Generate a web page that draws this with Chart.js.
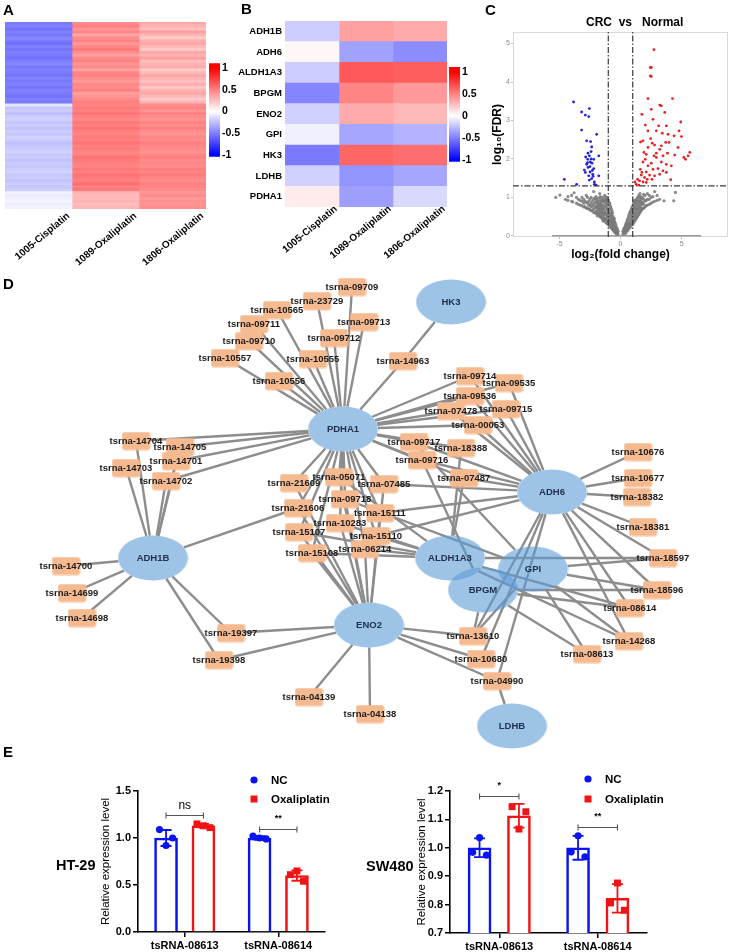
<!DOCTYPE html>
<html><head><meta charset="utf-8">
<script src="https://cdn.jsdelivr.net/npm/chart.js@4.4.0/dist/chart.umd.min.js"></script>
<style>
html,body{margin:0;padding:0;background:#fff;}
body{width:729px;height:952px;position:relative;overflow:hidden;font-family:"Liberation Sans",Arial,sans-serif;}
canvas{position:absolute;}
.t{position:absolute;font-weight:bold;color:#000;white-space:pre;line-height:1;}
</style></head><body>
<canvas id="hmA" width="208" height="290" style="left:0;top:0"></canvas>
<canvas id="cbA" width="60" height="110" style="left:195px;top:55px"></canvas>
<canvas id="hmB" width="220" height="290" style="left:230px;top:0"></canvas>
<canvas id="cbB" width="60" height="115" style="left:435px;top:55px"></canvas>
<canvas id="vol" width="249" height="240" style="left:480px;top:25px"></canvas>
<canvas id="net" width="729" height="485" style="left:0;top:270px"></canvas>
<canvas id="e1" width="240" height="182" style="left:95px;top:770px"></canvas>
<canvas id="e2" width="265" height="182" style="left:405px;top:770px"></canvas>
<div class="t" style="left:3px;top:2px;font-size:15px">A</div>
<div class="t" style="left:241px;top:1px;font-size:15px">B</div>
<div class="t" style="left:485px;top:2px;font-size:15px">C</div>
<div class="t" style="left:3px;top:276px;font-size:15px">D</div>
<div class="t" style="left:3px;top:744px;font-size:15px">E</div>
<div class="t" style="left:586px;top:16px;font-size:12px">CRC  vs   Normal</div>
<div class="t" style="left:56px;top:858px;font-size:14.5px">HT-29</div>
<div class="t" style="left:366px;top:859px;font-size:14.5px">SW480</div>
<script>
// ---------------- DATA ----------------
const hmColNames = ['1005-Cisplatin','1089-Oxaliplatin','1806-Oxaliplatin'];
const hmA_1005 = [-0.52,-0.5,-0.55,-0.5,-0.53,-0.48,-0.52,-0.56,-0.5,-0.54,-0.5,-0.52,-0.55,-0.5,-0.48,-0.53,-0.5,-0.52,-0.55,-0.5,-0.52,-0.5,-0.54,-0.5,-0.52,-0.55,-0.5,-0.52,
  -0.1,-0.22,-0.2,-0.25,-0.2,-0.18,-0.22,-0.2,-0.24,-0.2,-0.22,-0.18,-0.2,-0.25,-0.22,-0.2,-0.18,-0.22,-0.2,-0.24,-0.2,-0.22,-0.2,-0.18,-0.22,-0.2,-0.24,-0.2,-0.22,-0.2,
  -0.05,-0.08,-0.06,-0.04,-0.07,-0.05];
const hmA_1089 = [0.45,0.5,0.42,0.48,0.35,0.45,0.5,0.4,0.47,0.52,0.44,0.38,0.46,0.5,0.42,0.45,0.36,0.48,0.5,0.44,0.4,0.47,0.45,0.5,0.38,0.42,0.46,0.5,
  0.48,0.52,0.5,0.55,0.5,0.47,0.53,0.5,0.55,0.5,0.48,0.52,0.5,0.55,0.5,0.52,0.48,0.5,0.55,0.52,0.5,0.48,0.53,0.5,0.55,0.52,0.5,0.57,0.5,0.52,
  0.3,0.27,0.28,0.3,0.26,0.28];
const hmA_1806 = [0.35,0.3,0.25,0.38,0.3,0.2,0.32,0.35,0.28,0.22,0.35,0.3,0.38,0.25,0.3,0.33,0.2,0.28,0.35,0.3,0.25,0.32,0.22,0.3,0.35,0.28,0.2,0.3,
  0.45,0.48,0.42,0.5,0.45,0.43,0.48,0.45,0.5,0.45,0.42,0.47,0.45,0.5,0.47,0.45,0.43,0.48,0.5,0.45,0.47,0.45,0.5,0.48,0.52,0.47,0.45,0.5,0.48,0.45,
  0.42,0.45,0.4,0.43,0.42,0.44];
const hmBGenes = ['ADH1B','ADH6','ALDH1A3','BPGM','ENO2','GPI','HK3','LDHB','PDHA1'];
const hmB_1005 = [-0.2,0.03,-0.2,-0.48,-0.18,-0.06,-0.52,-0.18,0.08];
const hmB_1089 = [0.37,-0.37,0.65,0.48,0.33,-0.35,0.6,-0.42,-0.38];
const hmB_1806 = [0.33,-0.45,0.63,0.4,0.28,-0.3,0.57,-0.35,-0.15];
const cbTicks = [-1,-0.5,0,0.5,1];

const fcCut = 1, fdrCut = 1.3;
const volGray = [
 [-0.2,[0.05,0.12]],[-0.3,[0.04,0.1,0.2]],[-0.4,[0.08,0.15,0.3]],[-0.5,[0.1,0.2,0.38,0.45]],
 [-0.6,[0.15,0.25,0.35,0.5]],[-0.7,[0.18,0.3,0.42,0.55,0.65]],[-0.8,[0.22,0.35,0.48,0.6,0.75]],
 [-0.9,[0.25,0.4,0.55,0.7,0.85]],[-1.0,[0.3,0.45,0.6,0.8,0.92]],[-1.1,[0.32,0.5,0.68,0.85,1.0]],
 [-1.2,[0.35,0.4,0.55,0.75,0.95]],[-1.3,[0.42,0.6,0.78,0.9,1.05]],[-1.4,[0.38,0.5,0.62,0.7,0.88]],
 [-1.5,[0.45,0.55,0.68,0.8,1.0]],[-1.6,[0.48,0.6,0.72,0.85,0.95]],[-1.7,[0.5,0.62,0.75,0.9,1.1]],
 [-1.8,[0.55,0.68,0.8,0.98]],[-1.9,[0.52,0.6,0.72,0.85]],[-2.0,[0.58,0.65,0.78,0.9,1.02]],
 [-2.2,[0.6,0.7,0.82,0.95,1.15]],[-2.4,[0.65,0.75,0.85,1.0]],[-2.6,[0.7,0.8,0.9]],[-2.8,[0.72,0.88,1.05]],
 [-3.0,[0.75,0.85,0.95]],[-3.3,[0.8,0.92]],[-3.6,[0.85,1.0]],[-3.8,[1.12]],[-4.0,[0.9,1.05]],[-4.5,[0.95]],[-4.96,[1.06]],
 [-0.25,[0.08,0.16]],[-0.35,[0.06,0.14,0.25]],[-0.45,[0.12,0.22,0.35]],[-0.55,[0.14,0.28,0.42]],[-0.65,[0.2,0.32,0.46,0.6]],
 [-0.75,[0.24,0.38,0.52,0.7]],[-0.85,[0.28,0.42,0.58,0.8]],[-0.95,[0.34,0.5,0.65,0.88]],[-1.05,[0.36,0.52,0.72,0.95]],
 [-1.15,[0.4,0.58,0.8,0.92]],[-1.25,[0.45,0.65,0.85,1.02]],[-1.35,[0.46,0.56,0.72,0.95]],[-1.45,[0.42,0.6,0.78,0.92]],
 [-1.55,[0.5,0.64,0.76,0.9]],[-1.65,[0.52,0.66,0.8,1.02]],[-1.75,[0.56,0.7,0.84]],[-1.85,[0.6,0.74,0.9]],[-1.95,[0.62,0.76,0.95]],
 [-2.1,[0.62,0.74,0.86,0.98]],[-2.3,[0.66,0.78,0.9]],[-2.5,[0.68,0.8,0.95]],[-2.7,[0.72,0.85,1.0]],[-2.9,[0.76,0.9]],
 [-3.15,[0.78,0.9,1.0]],[-3.45,[0.82,0.95]],[-3.9,[0.88]],[-4.3,[0.92,1.02]],[-5.3,[1.0]],
 [0.2,[0.05,0.12]],[0.3,[0.1,0.2]],[0.4,[0.06,0.15,0.28]],[0.5,[0.1,0.2,0.35]],[0.6,[0.14,0.25,0.45]],
 [0.7,[0.2,0.3,0.55]],[0.8,[0.22,0.35,0.62]],[0.9,[0.28,0.4,0.55,0.7]],[1.0,[0.3,0.45,0.62,0.78]],
 [1.1,[0.35,0.5,0.68,0.85]],[1.2,[0.4,0.55,0.72,0.9]],[1.3,[0.45,0.6,0.78,0.95]],[1.4,[0.5,0.65,0.82,1.0]],
 [1.5,[0.55,0.7,0.88,1.05]],[1.6,[0.6,0.75,0.9,1.1]],[1.7,[0.65,0.8,0.95]],[1.8,[0.7,0.85,1.0]],
 [2.0,[0.75,0.9,1.05]],[2.2,[0.8,0.95,1.1]],[2.5,[0.85,1.0]],[2.8,[0.9,1.15]],[3.2,[0.95]],[3.56,[0.91]],[4.36,[0.91]],[4.5,[1.13]],
 [0.25,[0.08,0.16]],[0.35,[0.12,0.22]],[0.45,[0.14,0.24,0.32]],[0.55,[0.16,0.28,0.4]],[0.65,[0.2,0.35,0.5]],
 [0.75,[0.26,0.42,0.6]],[0.85,[0.3,0.48,0.66]],[0.95,[0.34,0.52,0.74]],[1.05,[0.38,0.56,0.8]],[1.15,[0.42,0.6,0.76,0.92]],
 [1.25,[0.48,0.66,0.84]],[1.35,[0.52,0.7,0.88]],[1.45,[0.58,0.75,0.92]],[1.55,[0.62,0.8,0.98]],[1.65,[0.68,0.85,1.02]],
 [1.75,[0.72,0.88]],[1.9,[0.72,0.82,0.95,1.08]],[2.1,[0.78,0.92]],[2.35,[0.82,0.95,1.05]],[2.65,[0.88,1.02]],[3.0,[0.92,1.05]]
];
const volDown = [[-3.84,3.48],[-3.18,3.22],[-2.55,3.31],[-2.88,3.14],[-2.6,3.1],[-3.18,2.75],[-1.95,2.64],[-2.77,2.47],[-2.36,2.31],[-2.41,2.19],
 [-1.78,2.08],[-2.55,2.08],[-2.68,1.99],[-2.47,1.92],[-2.77,1.86],[-2.33,1.89],[-2.66,1.78],[-2.96,1.71],[-2.19,1.75],[-2.49,1.66],
 [-2.27,1.6],[-2.6,1.56],[-2.36,1.49],[-2.14,1.4],[-1.78,1.56],[-4.6,1.47],[-3.59,1.34],[-2.14,1.34],[-2.0,1.32],[-2.88,1.65],
 [-2.19,1.99],[-2.66,2.15],[-2.5,1.8],[-2.3,1.7],[-2.7,1.9],[-2.4,2.0],[-2.55,1.45],[-2.25,1.55],[-2.45,2.45],[-2.85,2.05]];
const volUp = [[2.74,4.84],[2.44,4.38],[2.52,4.38],[2.44,4.16],[2.52,4.14],[2.25,3.57],[4.25,3.57],[3.21,3.4],[3.34,3.38],[2.52,3.29],
 [3.62,3.21],[1.75,3.16],[2.66,3.03],[4.93,2.96],[2.03,2.88],[3.12,2.86],[2.25,2.73],[3.42,2.67],[3.89,2.64],[4.38,2.6],
 [4.79,2.73],[1.64,2.44],[1.84,2.47],[2.6,2.41],[2.79,2.36],[3.7,2.43],[4.99,2.58],[4.71,2.3],[3.21,2.25],[2.11,2.12],
 [2.93,2.15],[3.84,2.15],[4.44,2.1],[5.67,2.17],[5.53,2.08],[5.18,2.04],[5.32,1.99],[2.03,1.99],[2.93,2.04],[3.48,2.08],
 [1.84,1.92],[2.52,1.89],[3.34,1.92],[3.75,1.86],[4.16,1.82],[2.25,1.82],[1.75,1.65],[2.66,1.73],[3.07,1.75],[3.48,1.69],
 [2.11,1.66],[3.21,1.6],[1.7,1.58],[2.38,1.58],[2.79,1.56],[1.97,1.52],[2.19,1.47],[2.58,1.47],[1.56,1.43],[1.84,1.4],
 [1.29,1.34],[1.51,1.32],[2.11,1.39],[4.11,1.46],[1.18,1.4],[1.4,1.47],[1.62,1.73],[1.92,2.17],[3.75,2.86],[2.93,2.73],
 [2.47,2.53],[3.34,2.34],[3.97,2.43],[2.25,2.3],[2.74,2.08],[3.75,1.65]];

const geneNames = ['HK3','PDHA1','ADH6','ADH1B','ALDH1A3','GPI','BPGM','ENO2','LDHB'];
const geneX = [451,343,552,153,450,533,483,369,512];
const geneY = [302,429,492,558,558,569,590,625,726];
const tsrnaNames = ['tsrna-09709','tsrna-23729','tsrna-10565','tsrna-09711','tsrna-09713','tsrna-09710','tsrna-09712','tsrna-10557','tsrna-10555','tsrna-10556',
 'tsrna-14963','tsrna-14704','tsrna-14705','tsrna-14701','tsrna-14703','tsrna-14702','tsrna-14700','tsrna-14699','tsrna-14698','tsrna-19397',
 'tsrna-19398','tsrna-04139','tsrna-04138','tsrna-13610','tsrna-10680','tsrna-04990','tsrna-09714','tsrna-09535','tsrna-09536','tsrna-07478',
 'tsrna-09715','tsrna-00053','tsrna-09717','tsrna-18388','tsrna-09716','tsrna-07487','tsrna-07485','tsrna-21609','tsrna-05071','tsrna-21606',
 'tsrna-09718','tsrna-15111','tsrna-10283','tsrna-15107','tsrna-15110','tsrna-06214','tsrna-15108','tsrna-10676','tsrna-10677','tsrna-18382',
 'tsrna-18381','tsrna-18597','tsrna-18596','tsrna-08614','tsrna-14268','tsrna-08613'];
const tsrnaX = [352,317,277,254,364,249,334,225,313,279, 403,136,180,176,126,166,66,72,82,231, 219,309,370,473,481,497,470,509,470,451,
 506,478,414,461,422,464,384,294,339,298, 345,380,340,299,376,365,312,638,638,637, 643,663,657,630,629,587];
const tsrnaY = [287,301,310,324,322,341,338,358,359,381, 361,441,447,461,468,481,566,593,618,633, 660,697,714,636,659,681,376,383,396,411,
 409,425,442,448,460,478,484,483,477,508, 499,513,523,532,536,549,553,452,478,497, 527,558,590,608,641,654];
const tsrnaLinks = [['PDHA1'],['PDHA1'],['PDHA1'],['PDHA1'],['PDHA1'],['PDHA1'],['PDHA1'],['PDHA1'],['PDHA1'],['PDHA1'],
 ['HK3','PDHA1'],['PDHA1','ADH1B'],['PDHA1','ADH1B'],['PDHA1','ADH1B'],['ADH1B'],['PDHA1','ADH1B'],['ADH1B'],['ADH1B'],['ADH1B'],['ADH1B','ENO2'],
 ['ADH1B','ENO2'],['ENO2'],['ENO2'],['ENO2','BPGM','ADH6','GPI'],['ENO2','ADH6'],['ENO2','ADH6','LDHB'],['PDHA1','ADH6'],['PDHA1','ADH6'],['PDHA1','ADH6'],['PDHA1','ADH6'],
 ['PDHA1','ADH6'],['PDHA1','ADH6'],['PDHA1','ADH6','GPI'],['PDHA1','ALDH1A3'],['PDHA1','ADH6','BPGM'],['PDHA1','ADH6','ALDH1A3'],['PDHA1','ADH6','ENO2'],['PDHA1','ENO2'],['PDHA1','ENO2','ALDH1A3'],['PDHA1','ADH1B','ENO2'],
 ['PDHA1','ENO2','GPI'],['PDHA1','ADH6','ENO2'],['PDHA1','ENO2','ALDH1A3'],['PDHA1','ENO2','ALDH1A3'],['PDHA1','ADH6','ALDH1A3'],['PDHA1','ENO2','ALDH1A3'],['PDHA1','ENO2','ALDH1A3'],['ADH6'],['ADH6'],['ADH6'],
 ['ADH6'],['ADH6','ALDH1A3','GPI'],['ADH6','BPGM','GPI'],['ADH6','ALDH1A3','BPGM'],['ADH6','ALDH1A3','GPI'],['GPI','BPGM']];

const eCats = ['tsRNA-08613','tsRNA-08614'];
const ht29_NC_mean = [1.0, 1.0], ht29_NC_sd = [0.085, 0.02];
const ht29_OX_mean = [1.13, 0.6], ht29_OX_sd = [0.02, 0.055];
const ht29_NC_reps = [[1.09,0.92,1.0],[1.02,1.0,0.99]];
const ht29_OX_reps = [[1.15,1.13,1.11],[0.61,0.65,0.54]];
const ht29_sig = [{cat:0, level:1.245, text:'ns'},{cat:1, level:1.10, text:'**'}];
const sw480_NC_mean = [1.0, 1.0], sw480_NC_sd = [0.033, 0.042];
const sw480_OX_mean = [1.113, 0.822], sw480_OX_sd = [0.042, 0.05];
const sw480_NC_reps = [[0.984,1.036,0.974],[0.986,1.042,0.968]];
const sw480_OX_reps = [[1.145,1.066,1.127],[0.806,0.876,0.78]];
const sw480_sig = [{cat:0, level:1.182, text:'*'},{cat:1, level:1.074, text:'**'}];

// ---------------- RENDER ----------------
const FF = "'Liberation Sans', Arial, Helvetica, sans-serif";
Chart.defaults.font.family = FF;
Chart.defaults.color = '#000';
Chart.defaults.animation = false;
Chart.defaults.events = [];
Chart.defaults.layout.autoPadding = false;
Chart.defaults.plugins.legend.display = false;
Chart.defaults.plugins.tooltip.enabled = false;

function heatColor(v){
  const t = Math.max(-1, Math.min(1, v));
  if (t >= 0) { const c = Math.round(255*(1-t)); return `rgb(255,${c},${c})`; }
  const c = Math.round(255*(1+t)); return `rgb(${c},${c},255)`;
}

function heatmap(id, rowLabels, cols, showRows, pad, yW, xH, labelOffset, labelPad){
  new Chart(document.getElementById(id), {
    type:'bar',
    data:{ labels: rowLabels,
      datasets: cols.map((vals,c)=>({ data: vals.map(()=>[c,c+1]), backgroundColor: vals.map(heatColor),
        borderWidth:0, grouped:false, barPercentage:1, categoryPercentage:1 })) },
    options:{ indexAxis:'y', responsive:false, devicePixelRatio:1, layout:{padding:pad},
      scales:{
        x:{ type:'linear', min:0, max:cols.length,
            afterBuildTicks:a=>{ a.ticks = hmColNames.map((_,i)=>({value:i+0.5})); },
            afterFit:s=>{ s.height = xH; s.paddingLeft = 0; s.paddingRight = 0; },
            grid:{display:false, drawTicks:false}, border:{display:false},
            ticks:{ autoSkip:false, minRotation:40, maxRotation:40, labelOffset:labelOffset, padding:labelPad,
                    color:'#000', font:{size:10, weight:'bold'}, callback:(v,i)=>hmColNames[i] } },
        y:{ display:showRows, afterFit:s=>{ s.width = yW; }, grid:{display:false, drawTicks:false}, border:{display:false},
            ticks:{ color:'#000', font:{size:9.5, weight:'bold'}, padding:3, autoSkip:false } }
      } }
  });
}
heatmap('hmA', hmA_1005.map((_,i)=>'r'+i), [hmA_1005, hmA_1089, hmA_1806], false, {left:5, top:22, right:2, bottom:0}, 0, 81, 30, 1);
heatmap('hmB', hmBGenes, [hmB_1005, hmB_1089, hmB_1806], true, {left:0, top:21, right:3, bottom:0}, 55, 83, 24, -4);

function colorbar(id, pad){
  new Chart(document.getElementById(id), {
    type:'bar',
    data:{ labels:['scale'], datasets:[{ data:[[-1.045,1.112]], borderWidth:0, barPercentage:1, categoryPercentage:1,
      backgroundColor: ctx => { const ch = ctx.chart; if (!ch.chartArea) return '#fff'; const y = ch.scales.y;
        const g = ch.ctx.createLinearGradient(0, y.getPixelForValue(-1), 0, y.getPixelForValue(1));
        [-1,-0.75,-0.5,-0.25,0,0.25,0.5,0.75,1].forEach(v=>g.addColorStop((v+1)/2, heatColor(v))); return g; } }] },
    options:{ responsive:false, devicePixelRatio:1, layout:{padding:pad},
      scales:{ x:{display:false},
        y:{ position:'right', min:-1.045, max:1.112, afterBuildTicks:a=>{ a.ticks = cbTicks.map(v=>({value:v})); },
            afterFit:s=>{ s.width = 35; }, grid:{display:false, drawTicks:false}, border:{display:false},
            ticks:{ color:'#000', font:{size:10.5, weight:'bold'}, padding:2, callback:v=>String(v) } } } }
  });
}
colorbar('cbA', {left:14, top:8, bottom:6, right:0});
colorbar('cbB', {left:14, top:12, bottom:7, right:0});

// Volcano
const grayPts = []; volGray.forEach(([x, ys]) => ys.forEach(y => grayPts.push({x, y})));
const volFrame = { id:'volFrame', beforeDatasetsDraw(chart){ const {ctx, chartArea:a} = chart; ctx.save();
  ctx.strokeStyle = '#d9d9d9'; ctx.lineWidth = 1; ctx.strokeRect(a.left+0.5, a.top+0.5, a.right-a.left-1, a.bottom-a.top-1);
  const y0 = chart.scales.y.getPixelForValue(0); ctx.strokeStyle = '#9a9a9a'; ctx.lineWidth = 1.5;
  ctx.beginPath(); ctx.moveTo(chart.scales.x.getPixelForValue(-5.6), y0); ctx.lineTo(chart.scales.x.getPixelForValue(6.6), y0); ctx.stroke(); ctx.restore(); } };
const dashLine = (pts) => ({ data: pts, showLine:true, borderColor:'#3a3a3a', borderWidth:1.2, borderDash:[6,2,1.5,2], pointRadius:0, fill:false });
new Chart(document.getElementById('vol'), {
  type:'scatter',
  data:{ datasets:[
    dashLine([{x:-fcCut, y:-0.03},{x:-fcCut, y:5.3}]),
    dashLine([{x:fcCut, y:-0.03},{x:fcCut, y:5.3}]),
    dashLine([{x:-8.8, y:fdrCut},{x:8.8, y:fdrCut}]),
    { data: volDown.map(([x,y])=>({x,y})), pointRadius:1.4, pointBorderWidth:0, backgroundColor:'#2323d8' },
    { data: volUp.map(([x,y])=>({x,y})), pointRadius:1.4, pointBorderWidth:0, backgroundColor:'#e42222' },
    { data: grayPts, pointRadius:1.6, pointBorderWidth:0, backgroundColor:'rgba(120,120,120,0.85)' }
  ]},
  options:{ responsive:false, devicePixelRatio:1, layout:{padding:{left:10, top:7, right:1, bottom:1}},
    scales:{
      x:{ min:-8.8, max:8.8, afterBuildTicks:a=>{ a.ticks=[-5,0,5].map(v=>({value:v})); }, afterFit:s=>{ s.height = 27; },
          grid:{drawOnChartArea:false, tickLength:2, color:'#bbb'}, border:{display:false},
          ticks:{ color:'#888', font:{size:7}, padding:1 },
          title:{ display:true, text:'log₂(fold change)', color:'#000', font:{size:12, weight:'bold'}, padding:{top:0,bottom:2} } },
      y:{ min:-0.03, max:5.3, afterBuildTicks:a=>{ a.ticks=[0,1,2,3,4,5].map(v=>({value:v})); }, afterFit:s=>{ s.width = 23; },
          grid:{drawOnChartArea:false, tickLength:2, color:'#bbb'}, border:{display:false},
          ticks:{ color:'#888', font:{size:7}, padding:1 },
          title:{ display:true, text:'log₁₀(FDR)', color:'#000', font:{size:12, weight:'bold'}, padding:{top:0,bottom:0} } }
    } },
  plugins:[volFrame]
});

// Network
const geneRx = 35, geneRy = 22.5;
function nodeImg(w, h, fill, r, ellipse){
  const c = document.createElement('canvas'); c.width = w; c.height = h; const g = c.getContext('2d');
  g.fillStyle = fill; g.beginPath();
  if (ellipse) g.ellipse(w/2, h/2, w/2-0.5, h/2-0.5, 0, 0, Math.PI*2);
  else g.roundRect(0.5, 0.5, w-1, h-1, r);
  g.fill(); return c;
}
const ellImg = nodeImg(71, 46, 'rgba(92,155,213,0.6)', 0, true);
const boxImg = nodeImg(29, 19, 'rgb(246,186,145)', 2.5, false);
function edgeEnd(gx, gy, tx, ty){ const dx = tx-gx, dy = ty-gy; const t = 1/Math.sqrt((dx/geneRx)**2 + (dy/geneRy)**2); return {x: gx+dx*t, y: gy+dy*t}; }
const netSets = [];
tsrnaNames.forEach((n,i)=> tsrnaLinks[i].forEach(gn => { const gi = geneNames.indexOf(gn);
  netSets.push({ data:[{x:tsrnaX[i], y:tsrnaY[i]}, edgeEnd(geneX[gi], geneY[gi], tsrnaX[i], tsrnaY[i])], showLine:true,
    borderColor:'#8d8d8d', borderWidth:2.4, pointRadius:0, fill:false, order:3 }); }));
netSets.push({ data: tsrnaX.map((x,i)=>({x, y:tsrnaY[i]})), pointStyle: boxImg, pointRadius:10, order:1 });
netSets.push({ data: geneX.map((x,i)=>({x, y:geneY[i]})), pointStyle: ellImg, pointRadius:20, order:0 });
const netLabels = { id:'netLabels', afterDatasetsDraw(chart){ const {ctx} = chart; const X = chart.scales.x, Y = chart.scales.y;
  ctx.save(); ctx.textAlign = 'center'; ctx.textBaseline = 'middle';
  ctx.font = 'bold 9.5px ' + FF; ctx.fillStyle = '#1c1c1c';
  tsrnaNames.forEach((n,i)=> ctx.fillText(n, X.getPixelForValue(tsrnaX[i]), Y.getPixelForValue(tsrnaY[i])));
  ctx.font = 'bold 9.5px ' + FF; ctx.fillStyle = '#22324d';
  geneNames.forEach((n,i)=> ctx.fillText(n, X.getPixelForValue(geneX[i]), Y.getPixelForValue(geneY[i])));
  ctx.restore(); } };
new Chart(document.getElementById('net'), {
  type:'scatter', data:{ datasets: netSets },
  options:{ responsive:false, devicePixelRatio:1, layout:{padding:0, autoPadding:false},
    scales:{ x:{display:false, min:0, max:729}, y:{display:false, min:270, max:755, reverse:true} } },
  plugins:[netLabels]
});

// Bar panels
const barDeco = { id:'barDeco',
  afterDatasetDraw(chart, args){ const ds = chart.data.datasets[args.index]; if (!ds.sd) return;
    const {ctx} = chart, y = chart.scales.y; ctx.save(); ctx.strokeStyle = ds.borderColor; ctx.lineWidth = 1.8;
    args.meta.data.forEach((bar,i)=>{ const m = ds.data[i].y;
      const yt = y.getPixelForValue(m+ds.sd[i]), yb = y.getPixelForValue(m-ds.sd[i]);
      ctx.beginPath(); ctx.moveTo(bar.x, yt); ctx.lineTo(bar.x, yb);
      ctx.moveTo(bar.x-5.5, yt); ctx.lineTo(bar.x+5.5, yt); ctx.moveTo(bar.x-5.5, yb); ctx.lineTo(bar.x+5.5, yb); ctx.stroke(); });
    ctx.restore(); },
  afterDraw(chart, args, opts){ const {ctx} = chart, y = chart.scales.y;
    const m0 = chart.getDatasetMeta(0), m1 = chart.getDatasetMeta(1); ctx.save();
    (opts.sig||[]).forEach(s=>{ const x0 = m0.data[s.cat].x, x1 = m1.data[s.cat].x, py = Math.round(y.getPixelForValue(s.level))+0.5;
      ctx.strokeStyle = '#555'; ctx.lineWidth = 1.1; ctx.beginPath(); ctx.moveTo(x0, py); ctx.lineTo(x1, py);
      ctx.moveTo(x0, py-3); ctx.lineTo(x0, py+3); ctx.moveTo(x1, py-3); ctx.lineTo(x1, py+3); ctx.stroke();
      ctx.fillStyle = '#000'; ctx.textAlign = 'center'; ctx.textBaseline = 'middle';
      ctx.font = (s.text === 'ns' ? '12px ' : 'bold 9px ') + FF; ctx.fillText(s.text, (x0+x1)/2, py - (s.text === 'ns' ? 10 : 11)); });
    const L = opts.legend;
    chart.data.datasets.slice(0,2).forEach((ds,k)=>{ const ly = L.y + k*L.gap; ctx.fillStyle = ds.borderColor;
      if (k === 0) { ctx.beginPath(); ctx.arc(L.x, ly, 3.6, 0, Math.PI*2); ctx.fill(); } else ctx.fillRect(L.x-3.5, ly-3.5, 7, 7);
      ctx.fillStyle = '#000'; ctx.font = 'bold 11.5px ' + FF; ctx.textAlign = 'left'; ctx.textBaseline = 'middle'; ctx.fillText(ds.label, L.x+17, ly+0.5); });
    ctx.restore(); } };
const groupOff = [-0.2, 0.2];
function barPoints(means, g){ return means.map((m,i)=>({x: i+groupOff[g], y: m})); }
function repPoints(reps, g){ const pts = []; reps.forEach((vals,i)=>vals.forEach((v,k)=>pts.push({x: i+groupOff[g]+(k-1)*0.07, y: v}))); return pts; }
function barPanel(id, ncM, ncS, oxM, oxS, ncR, oxR, sig, yMin, yMax, yTicks, pad, yW, xH, legend){
  const barStyle = { backgroundColor:'#fff', borderWidth:2.6, grouped:false, barThickness:23, xAxisID:'xr', order:2 };
  new Chart(document.getElementById(id), {
    type:'bar',
    data:{ labels: eCats, datasets:[
      Object.assign({ label:'NC', data: barPoints(ncM, 0), sd: ncS, borderColor:'#0a14f0' }, barStyle),
      Object.assign({ label:'Oxaliplatin', data: barPoints(oxM, 1), sd: oxS, borderColor:'#f01414' }, barStyle),
      { type:'scatter', xAxisID:'xr', data: repPoints(ncR, 0), pointStyle:'circle', pointRadius:3.6, pointBorderWidth:0, backgroundColor:'#0a14f0', order:0 },
      { type:'scatter', xAxisID:'xr', data: repPoints(oxR, 1), pointStyle:'rect', pointRadius:4.9, pointBorderWidth:0, backgroundColor:'#f01414', order:0 }
    ]},
    options:{ responsive:false, devicePixelRatio:1, layout:{padding:pad},
      plugins:{ barDeco:{ sig, legend } },
      scales:{
        x:{ type:'category', offset:true, afterFit:s=>{ s.height = xH; }, grid:{display:true, offset:false, drawOnChartArea:false, tickLength:5, color:'#000', lineWidth:1.5},
            border:{display:true, color:'#000', width:1.6}, ticks:{ color:'#000', font:{size:11, weight:'bold'}, padding:2 } },
        xr:{ type:'linear', display:false, offset:false, min:-0.5, max:1.5 },
        y:{ min:yMin, max:yMax, afterBuildTicks:a=>{ a.ticks = yTicks.map(v=>({value:v})); }, afterFit:s=>{ s.width = yW; },
            grid:{display:true, drawOnChartArea:false, tickLength:5, color:'#000', lineWidth:1.5},
            border:{display:true, color:'#000', width:1.6},
            ticks:{ color:'#000', font:{size:11, weight:'bold'}, padding:2, callback:v=>v.toFixed(1) },
            title:{ display:true, text:'Relative expression level', color:'#000', font:{size:11.5}, padding:{top:4,bottom:2} } }
      } },
    plugins:[barDeco]
  });
}
barPanel('e1', ht29_NC_mean, ht29_NC_sd, ht29_OX_mean, ht29_OX_sd, ht29_NC_reps, ht29_OX_reps, ht29_sig,
  0, 1.5, [0,0.5,1.0,1.5], {left:0, top:21, right:10, bottom:0}, 43, 20, {x:159, y:10, gap:19});
barPanel('e2', sw480_NC_mean, sw480_NC_sd, sw480_OX_mean, sw480_OX_sd, sw480_NC_reps, sw480_OX_reps, sw480_sig,
  0.7, 1.2, [0.7,0.8,0.9,1.0,1.1,1.2], {left:6, top:21, right:23, bottom:0}, 39, 19, {x:183, y:9, gap:20});
</script>
</body></html>
